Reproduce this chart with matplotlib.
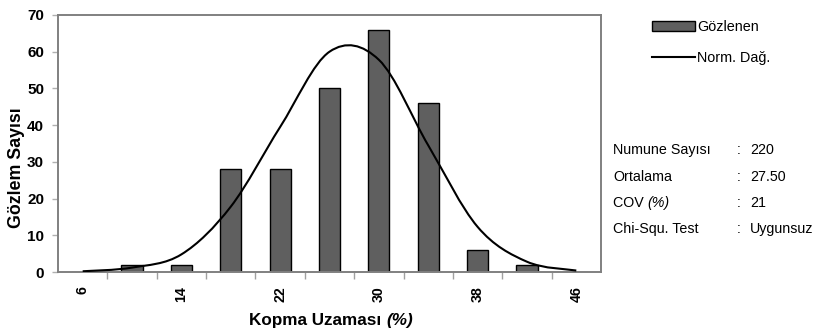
import numpy as np
import matplotlib.pyplot as plt
from matplotlib.patches import Patch, PathPatch
from matplotlib.lines import Line2D
from matplotlib.path import Path

plt.rcParams['font.family'] = ['Liberation Sans', 'DejaVu Sans']

# data
categories = [6, 10, 14, 18, 22, 26, 30, 34, 38, 42, 46]
observed = [0, 2, 2, 28, 28, 50, 66, 46, 6, 2, 0]
normal_fit = [0.2, 1.2, 4.8, 17.8, 39.5, 60, 57.8, 34.5, 12.3, 2.8, 0.4]
shown_labels = ['6', '14', '22', '30', '38', '46']

stat_names = ['Numune Sayısı', 'Ortalama', 'COV', 'Chi-Squ. Test']
stat_values = ['220', '27.50', '21', 'Uygunsuz']

W, H = 817, 332
fig = plt.figure(figsize=(W / 100, H / 100), dpi=100)
ax = fig.add_axes([58 / W, (H - 272) / H, (601 - 58) / W, (272 - 15) / H])

x = np.arange(len(categories))
ax.bar(x, observed, width=0.43, color='#5f5f5f', edgecolor='black',
       linewidth=1.0, zorder=2)


def smooth_path(xs, ys):
    # excel-like smoothed line: cubic bezier segments through the points
    pts = np.column_stack([xs, ys]).astype(float)
    n = len(pts)
    verts = [pts[0]]
    codes = [Path.MOVETO]
    for i in range(n - 1):
        p_prev = pts[i - 1] if i > 0 else pts[i]
        p_next2 = pts[i + 2] if i + 2 < n else pts[i + 1]
        c1 = pts[i] + (pts[i + 1] - p_prev) / 6
        c2 = pts[i + 1] - (p_next2 - pts[i]) / 6
        verts += [c1, c2, pts[i + 1]]
        codes += [Path.CURVE4] * 3
    return Path(verts, codes)


ax.add_patch(PathPatch(smooth_path(x, normal_fit), facecolor='none',
                       edgecolor='black', linewidth=1.5, zorder=3))

ax.set_xlim(-0.5, len(categories) - 0.5)
ax.set_ylim(0, 70)
ax.set_yticks(range(0, 71, 10))

# tick marks on category boundaries, labels on every other category
ax.set_xticks(np.arange(0.5, len(categories) - 0.5, 1))
ax.set_xticklabels([])
ax.set_xticks(x[::2], minor=True)
ax.set_xticklabels(shown_labels, minor=True, rotation=90,
                   fontsize=10.2, fontweight='bold')
ax.tick_params(axis='x', which='major', direction='out', length=5,
               color='#a0a0a0', width=1)
ax.tick_params(axis='x', which='minor', length=0, pad=10)
ax.tick_params(axis='y', direction='out', length=4, color='#b0b0b0',
               width=1, pad=6, labelsize=11)
for lab in ax.get_yticklabels():
    lab.set_fontweight('bold')

for sp in ax.spines.values():
    sp.set_color('#808080')
    sp.set_linewidth(1.4)


def fx(px):
    return px / W


def fy(py):
    return (H - py) / H


fig.text(fx(17), fy(168), 'Gözlem Sayısı', rotation=90, ha='center',
         va='center', fontsize=12.8, fontweight='bold')
t1 = fig.text(fx(249), fy(320), 'Kopma Uzaması ', ha='left', va='center',
              fontsize=12.3, fontweight='bold')
ax.annotate('(%)', xy=(1, 0), xycoords=t1, ha='left', va='bottom',
            fontsize=12.3, fontweight='bold', style='italic')

handles = [Patch(facecolor='#5f5f5f', edgecolor='black', linewidth=1.0),
           Line2D([], [], color='black', linewidth=1.5)]
fig.legend(handles, ['Gözlenen', 'Norm. Dağ.'], loc='upper left',
           bbox_to_anchor=(fx(652), fy(20)), frameon=False, fontsize=10.4,
           handlelength=3.0, handleheight=0.62, handletextpad=0.12,
           labelspacing=1.15, borderpad=0, borderaxespad=0)

rows_y = [150, 177, 203, 229]
for name, val, py in zip(stat_names, stat_values, rows_y):
    t = fig.text(fx(613), fy(py), name, ha='left', va='center', fontsize=10.3)
    if name == 'COV':
        t.set_text('COV ')
        ax.annotate('(%)', xy=(1, 0), xycoords=t, ha='left', va='bottom',
                    fontsize=10.3, style='italic')
    fig.text(fx(737), fy(py), ':', ha='left', va='center', fontsize=10.3)
    fig.text(fx(750), fy(py), val, ha='left', va='center', fontsize=10.3)

fig.savefig('out.png', dpi=100)
